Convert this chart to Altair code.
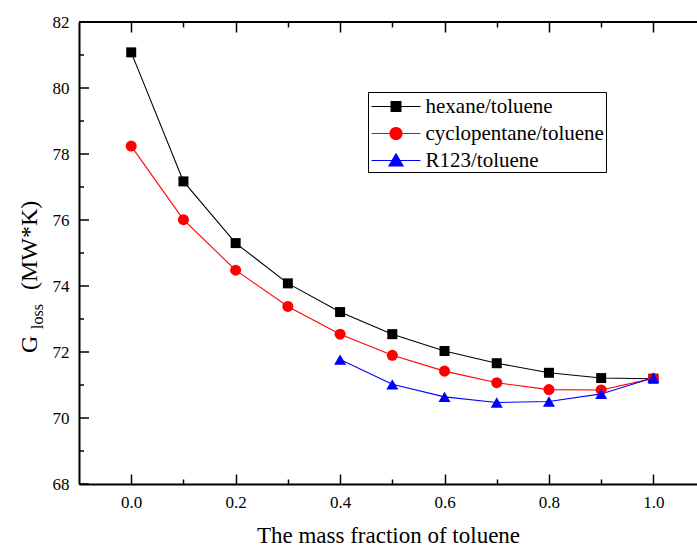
import altair as alt
import pandas as pd

# Exergy loss G_loss versus toluene mass fraction for three working-fluid mixtures
fraction = [0.0, 0.1, 0.2, 0.3, 0.4, 0.5, 0.6, 0.7, 0.8, 0.9, 1.0]
hexane = [81.08, 77.17, 75.30, 74.08, 73.21, 72.54, 72.03, 71.66, 71.37, 71.21, 71.19]
cyclopentane = [78.24, 76.01, 74.48, 73.38, 72.54, 71.90, 71.42, 71.07, 70.86, 70.85, 71.20]
r123_fraction = [0.4, 0.5, 0.6, 0.7, 0.8, 0.9, 1.0]
r123 = [71.77, 71.02, 70.64, 70.47, 70.50, 70.73, 71.22]

series_names = ["hexane/toluene", "cyclopentane/toluene", "R123/toluene"]
series_colors = ["#000000", "#ff0000", "#0000ff"]
series_shapes = ["square", "circle", "triangle-up"]
# legend glyphs: a short line with the marker in its middle
legend_glyphs = [
    "M-2,0H2M-0.4,-0.4H0.4V0.4H-0.4Z",
    "M-2,0H2M-0.49,0A0.49,0.49,0,1,0,0.49,0A0.49,0.49,0,1,0,-0.49,0Z",
    "M-2,0H2M0,-0.54L0.58,0.44H-0.58Z",
]

x_major = [0.0, 0.2, 0.4, 0.6, 0.8, 1.0]
x_minor = [0.1, 0.3, 0.5, 0.7, 0.9]
y_major = [68, 70, 72, 74, 76, 78, 80, 82]
y_minor = [69, 71, 73, 75, 77, 79, 81]

x_title = "The mass fraction of toluene"
y_title_main = "G"
y_title_sub = "loss"
y_title_unit = "(MW*K)"

FONT = "Liberation Serif"
W, H = 618, 462
MAJOR_PX, MINOR_PX = 10, 5

rows = []
for name, xs, ys in [
    (series_names[0], fraction, hexane),
    (series_names[1], fraction, cyclopentane),
    (series_names[2], r123_fraction, r123),
]:
    for xv, yv in zip(xs, ys):
        rows.append({"series": name, "fraction": xv, "gloss": yv})
df = pd.DataFrame(rows)

x_scale = alt.Scale(domain=[-0.1, 1.0835], nice=False, zero=False)
y_scale = alt.Scale(domain=[68, 82], nice=False, zero=False)
color_scale = alt.Scale(domain=series_names, range=series_colors)

x_axis = alt.Axis(
    title=x_title, values=x_major, format=".1f", grid=False, ticks=False,
    domainColor="black", domainWidth=2,
    labelFont=FONT, labelFontSize=17, labelColor="black", labelPadding=10,
    titleFont=FONT, titleFontSize=23, titleFontWeight="normal", titleColor="black",
    titlePadding=14,
)
y_axis = alt.Axis(
    title=None, values=y_major, format="d", grid=False, ticks=False,
    domainColor="black", domainWidth=2,
    labelFont=FONT, labelFontSize=17, labelColor="black", labelPadding=10,
)

base = alt.Chart(df)

lines = base.mark_line(strokeWidth=1.1).encode(
    x=alt.X("fraction:Q", scale=x_scale, axis=x_axis),
    y=alt.Y("gloss:Q", scale=y_scale, axis=y_axis),
    stroke=alt.Stroke("series:N", scale=color_scale, legend=None),
    detail="series:N",
)

points = base.mark_point(filled=True, opacity=1, strokeWidth=0).encode(
    x=alt.X("fraction:Q", axis=None),
    y=alt.Y("gloss:Q"),
    fill=alt.Fill("series:N", scale=color_scale, legend=None),
    shape=alt.Shape("series:N", scale=alt.Scale(domain=series_names, range=series_shapes), legend=None),
    size=alt.Size("series:N", scale=alt.Scale(domain=series_names, range=[100, 144, 196]), legend=None),
)

legend_props = dict(
    orient="none", legendX=289, legendY=70, title=None,
    strokeColor="black", fillColor="white", padding=1.5, cornerRadius=0,
    labelFont=FONT, labelFontSize=21, labelColor="black", labelLimit=400,
    labelOffset=16.5, symbolOffset=13.5, rowPadding=4, symbolSize=600, symbolStrokeWidth=1.2,
)
legend_layer = base.transform_filter("false").mark_point(filled=True, opacity=1).encode(
    x=alt.X("fraction:Q", axis=None),
    y=alt.Y("gloss:Q"),
    fill=alt.Fill("series:N", scale=color_scale, legend=alt.Legend(**legend_props)),
    stroke=alt.Stroke("series:N", scale=color_scale, legend=alt.Legend(**legend_props)),
    shape=alt.Shape("series:N", scale=alt.Scale(domain=series_names, range=legend_glyphs),
                    legend=alt.Legend(**legend_props)),
)

# frame line along the top of the plot
top_frame = alt.Chart(pd.DataFrame({"v": [0]})).mark_rule(color="black", strokeWidth=2).encode(
    x=alt.value(0), x2=alt.value(W), y=alt.value(0)
)

# inward x ticks as extra tick-only axes on the bottom and top edges
def tick_axis(values, orient, length_px):
    return alt.Chart(pd.DataFrame({"xt": values})).mark_rule(opacity=0).encode(
        x=alt.X("xt:Q", axis=alt.Axis(
            orient=orient, values=values, labels=False, domain=False, grid=False, title=None,
            ticks=True, tickSize=alt.ExprRef(expr=f"-{length_px}"),
            tickColor="black", tickWidth=1.5,
        ))
    )

x_tick_axes = [
    tick_axis(x_major, "bottom", MAJOR_PX),
    tick_axis(x_minor, "bottom", MINOR_PX),
    tick_axis(x_major, "top", MAJOR_PX),
    tick_axis(x_minor, "top", MINOR_PX),
]

# inward y ticks on the left edge
ymaj = alt.Chart(pd.DataFrame({"yt": y_major}))
ymin = alt.Chart(pd.DataFrame({"yt": y_minor}))
y_ticks = [
    ymaj.mark_rule(color="black", strokeWidth=1.5).encode(y="yt:Q", x=alt.value(0), x2=alt.value(MAJOR_PX)),
    ymin.mark_rule(color="black", strokeWidth=1.5).encode(y="yt:Q", x=alt.value(0), x2=alt.value(MINOR_PX)),
]

# y-axis title with subscript
title_style = dict(angle=270, align="left", baseline="alphabetic", font=FONT, color="black")
title_g = alt.Chart(pd.DataFrame({"t": [y_title_main]})).mark_text(fontSize=24, **title_style).encode(
    text="t:N", x=alt.value(-42), y=alt.value(331))
title_sub = alt.Chart(pd.DataFrame({"t": [y_title_sub]})).mark_text(fontSize=16, **title_style).encode(
    text="t:N", x=alt.value(-36), y=alt.value(307))
title_unit = alt.Chart(pd.DataFrame({"t": [y_title_unit]})).mark_text(fontSize=24, **title_style).encode(
    text="t:N", x=alt.value(-42), y=alt.value(268))

chart = alt.layer(
    lines, top_frame, points, legend_layer, title_g, title_sub, title_unit, *y_ticks, *x_tick_axes
).resolve_scale(
    shape="independent", fill="independent", stroke="independent"
).resolve_axis(
    x="independent"
).properties(
    width=W, height=H,
    background="white",
    autosize=alt.AutoSizeParams(type="none"),
    padding={"left": 79, "top": 22, "right": 0, "bottom": 63},
).configure_view(stroke=None)

chart.save("out.html", embed_options={"renderer": "svg", "actions": False})
